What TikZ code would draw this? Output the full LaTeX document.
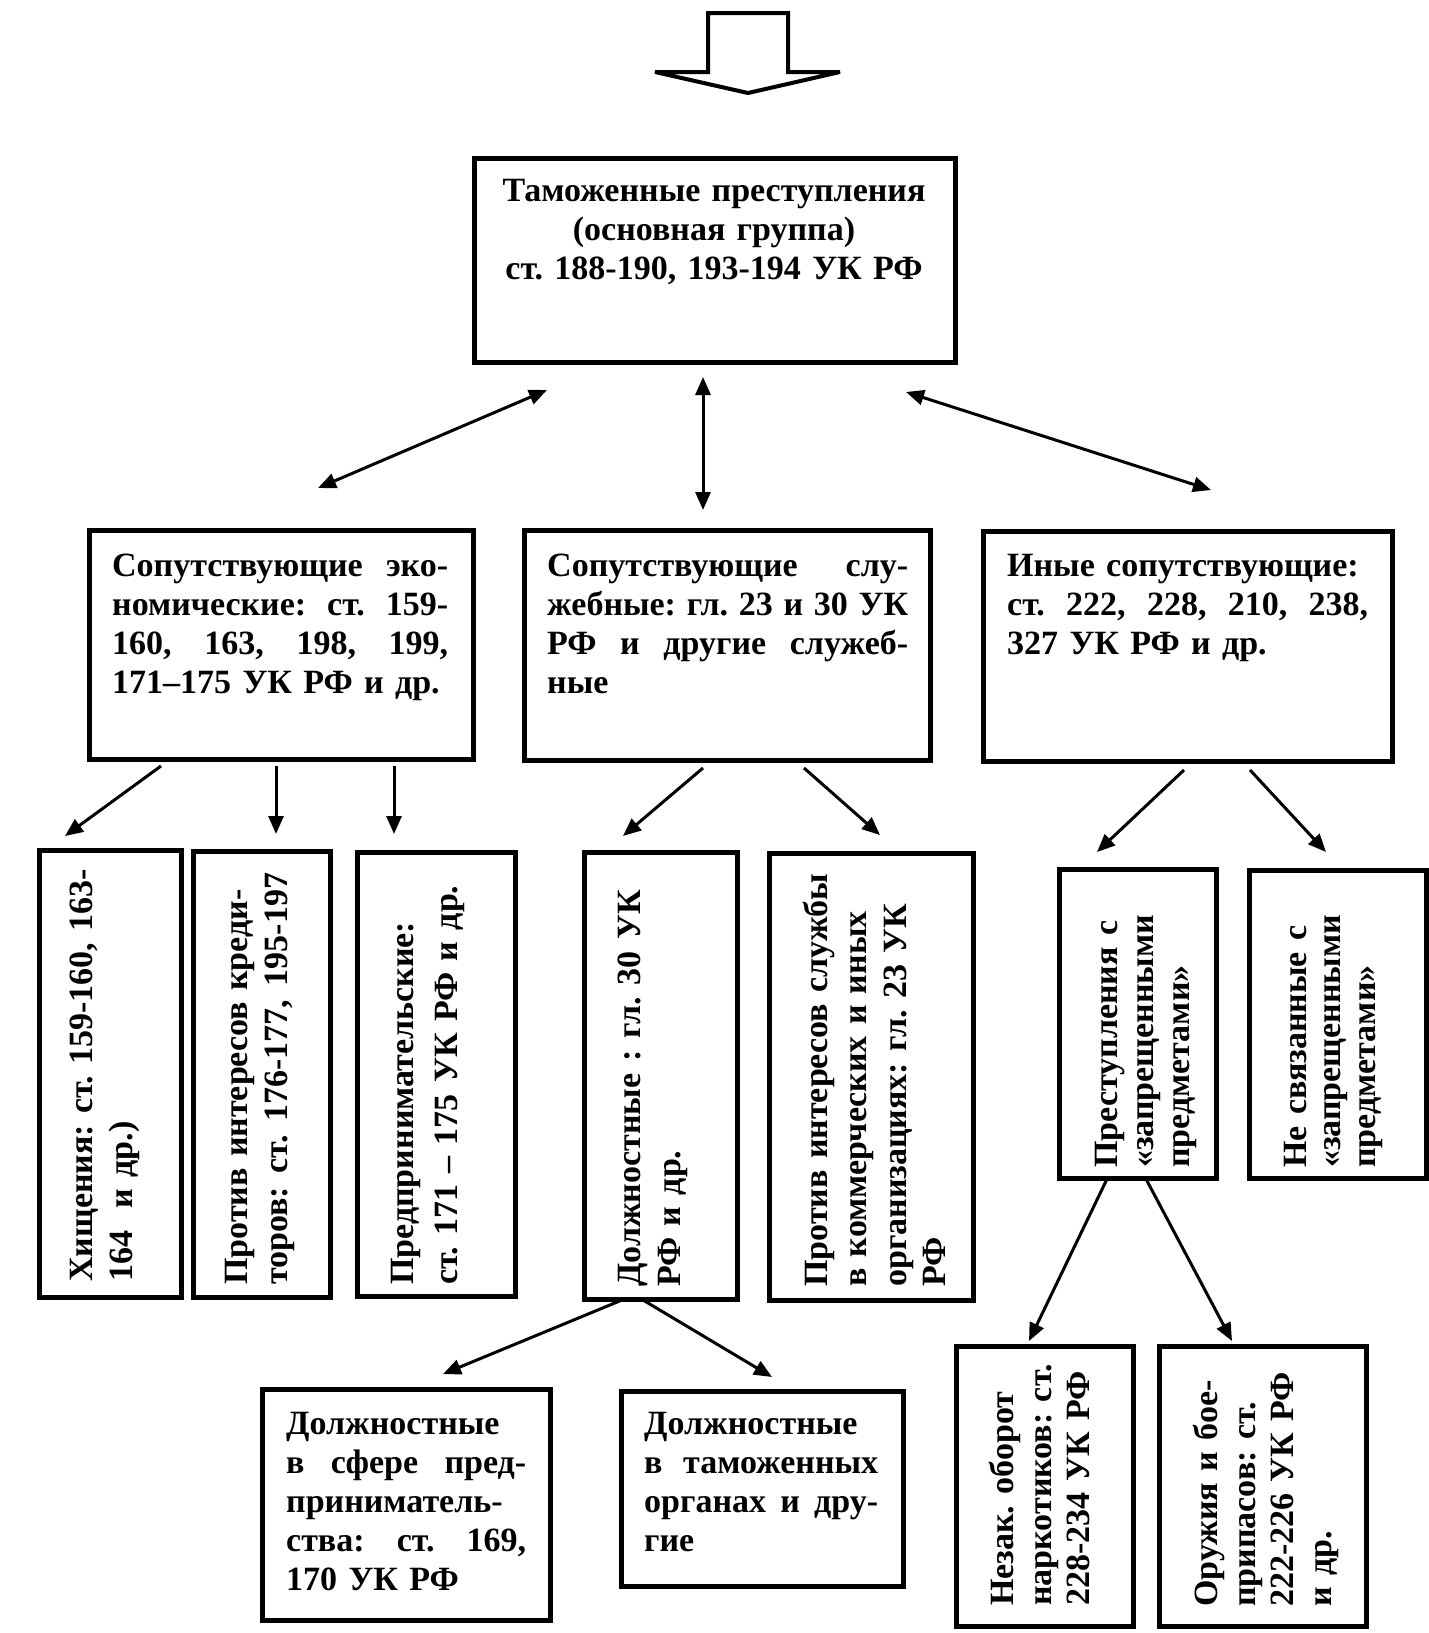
\documentclass[tikz,border=0pt]{standalone}
\usepackage{fontspec}
\setmainfont{Liberation Serif}
\usetikzlibrary{arrows.meta}
\newcommand\lineJ[1]{\hbox to \linewidth{\spaceskip=.25em plus 1fil\relax #1}\par}
\newcommand\lineL[1]{\hbox to \linewidth{#1\hfil}\par}
\tikzset{
  box/.style={draw, line width=4.5pt, inner sep=0pt, anchor=north west},
  txt/.style={inner sep=0pt, anchor=base west, font=\fontsize{34}{#1}\selectfont\bfseries\frenchspacing},
  txt/.default=39,
  vtxt/.style={txt=#1, rotate=90},
  vtxt/.default=39,
  tip/.tip={Triangle[length=18pt,width=15pt]},
  arr/.style={line width=3pt, -tip},
  darr/.style={line width=3pt, tip-tip},
}
\begin{document}
\begin{tikzpicture}[x=1pt,y=-1pt]
\fill[white] (0,0) rectangle (1428,1633);
\useasboundingbox (0,0) rectangle (1428,1633);

% top block arrow
\draw[line width=4pt, line join=miter, miter limit=1.5] (708,13) -- (788,13) -- (788,72) -- (840,72) -- (748,93) -- (655,72) -- (708,72) -- cycle;

% boxes
\node[box, minimum width=481pt, minimum height=204pt] (main) at (472,156) {};
\node[box, minimum width=384pt, minimum height=229pt] (A) at (87,528) {};
\node[box, minimum width=406pt, minimum height=230pt] (B) at (522,528) {};
\node[box, minimum width=409pt, minimum height=230pt] (C) at (981,529) {};
\node[box, minimum width=142pt, minimum height=447pt] (A1) at (37,848) {};
\node[box, minimum width=137pt, minimum height=446pt] (A2) at (191,849) {};
\node[box, minimum width=158pt, minimum height=444pt] (A3) at (355,850) {};
\node[box, minimum width=153pt, minimum height=447pt] (B1) at (582,850) {};
\node[box, minimum width=204pt, minimum height=447pt] (B2) at (767,851) {};
\node[box, minimum width=157pt, minimum height=309pt] (C1) at (1057,867) {};
\node[box, minimum width=177pt, minimum height=308pt] (C2) at (1247,868) {};
\node[box, minimum width=288pt, minimum height=231pt] (B11) at (260,1387) {};
\node[box, minimum width=282pt, minimum height=195pt] (B12) at (619,1389) {};
\node[box, minimum width=177pt, minimum height=280pt] (C11) at (954,1344) {};
\node[box, minimum width=207pt, minimum height=280pt] (C12) at (1157,1344) {};

% texts
\node[txt=39, anchor=base, text width=470pt, align=center] (mainT) at (714,201)
  {Таможенные преступления\\(основная группа)\\ст. 188-190, 193-194 УК РФ};
\node[txt, text width=336pt] (AT) at (112,576)
  {\lineJ{Сопутствующие эко-}\lineJ{номические: ст. 159-}\lineJ{160, 163, 198, 199,}\lineL{171–175 УК РФ и др.}};
\node[txt, text width=361pt] (BT) at (547,576)
  {\lineJ{Сопутствующие слу-}\lineJ{жебные: гл. 23 и 30 УК}\lineJ{РФ и другие служеб-}\lineL{ные}};
\node[txt, text width=361pt] (CT) at (1007,576)
  {\lineL{Иные сопутствующие:}\lineJ{ст. 222, 228, 210, 238,}\lineL{327 УК РФ и др.}};

\node[vtxt=40, text width=405pt] (A1T) at (92,1282)
  {\lineL{Хищения: ст. 159-160, 163-}\lineL{164\ \ и др.)}};
\node[vtxt=40, text width=412pt] (A2T) at (247,1285)
  {\lineL{Против интересов креди-}\lineJ{торов: ст. 176-177, 195-197}};
\node[vtxt=44, text width=400pt] (A3T) at (413,1285)
  {\lineL{Предпринимательские:}\lineL{ст. 171 – 175 УК РФ и др.}};
\node[vtxt=40, text width=397pt] (B1T) at (640,1287)
  {\lineJ{Должностные : гл. 30 УК}\lineL{РФ и др.}};
\node[vtxt=39.5, text width=414pt] (B2T) at (827,1287)
  {\lineL{Против интересов службы}\lineL{в коммерческих и иных}\lineL{организациях: гл. 23 УК}\lineL{РФ}};
\node[vtxt=36, text width=280pt] (C1T) at (1117,1168)
  {\lineL{Преступления с}\lineL{«запрещенными}\lineL{предметами»}};
\node[vtxt=34.5, text width=280pt] (C2T) at (1306,1168)
  {\lineL{Не связанные с}\lineL{«запрещенными}\lineL{предметами»}};
\node[vtxt=38, text width=250pt] (C11T) at (1013,1606)
  {\lineL{Незак. оборот}\lineL{наркотиков: ст.}\lineL{228-234 УК РФ}};
\node[vtxt=38, text width=250pt] (C12T) at (1217,1607)
  {\lineL{Оружия и бое-}\lineL{припасов: ст.}\lineL{222-226 УК РФ}\lineL{и др.}};
\node[txt, text width=240pt] (B11T) at (286,1434)
  {\lineL{Должностные}\lineJ{в сфере пред-}\lineL{приниматель-}\lineJ{ства: ст. 169,}\lineL{170 УК РФ}};
\node[txt, text width=234pt] (B12T) at (644,1434)
  {\lineL{Должностные}\lineJ{в таможенных}\lineJ{органах и дру-}\lineL{гие}};

% connector end points
\coordinate (m1s) at (547,390); \coordinate (m1e) at (318,488);
\coordinate (m2s) at (703,377); \coordinate (m2e) at (703,510);
\coordinate (m3s) at (906,392); \coordinate (m3e) at (1211,490);
\coordinate (a1s) at (161,766); \coordinate (a1e) at (65,836);
\coordinate (a2s) at (276,766); \coordinate (a2e) at (276,834);
\coordinate (a3s) at (394,766); \coordinate (a3e) at (394,834);
\coordinate (b1s) at (703,768); \coordinate (b1e) at (623,836);
\coordinate (b2s) at (804,768); \coordinate (b2e) at (880,835);
\coordinate (c1s) at (1184,770); \coordinate (c1e) at (1097,852);
\coordinate (c2s) at (1250,770); \coordinate (c2e) at (1326,852);
\coordinate (d1s) at (622,1300); \coordinate (d1e) at (443,1374);
\coordinate (d2s) at (643,1300); \coordinate (d2e) at (772,1377);
\coordinate (e1s) at (1107,1179); \coordinate (e1e) at (1029,1341);
\coordinate (e2s) at (1146,1179); \coordinate (e2e) at (1232,1341);

\draw[darr] (m1s) -- (m1e);
\draw[darr] (m2s) -- (m2e);
\draw[darr] (m3s) -- (m3e);
\draw[arr] (a1s) -- (a1e);
\draw[arr] (a2s) -- (a2e);
\draw[arr] (a3s) -- (a3e);
\draw[arr] (b1s) -- (b1e);
\draw[arr] (b2s) -- (b2e);
\draw[arr] (c1s) -- (c1e);
\draw[arr] (c2s) -- (c2e);
\draw[arr] (d1s) -- (d1e);
\draw[arr] (d2s) -- (d2e);
\draw[arr] (e1s) -- (e1e);
\draw[arr] (e2s) -- (e2e);
\end{tikzpicture}
\end{document}
